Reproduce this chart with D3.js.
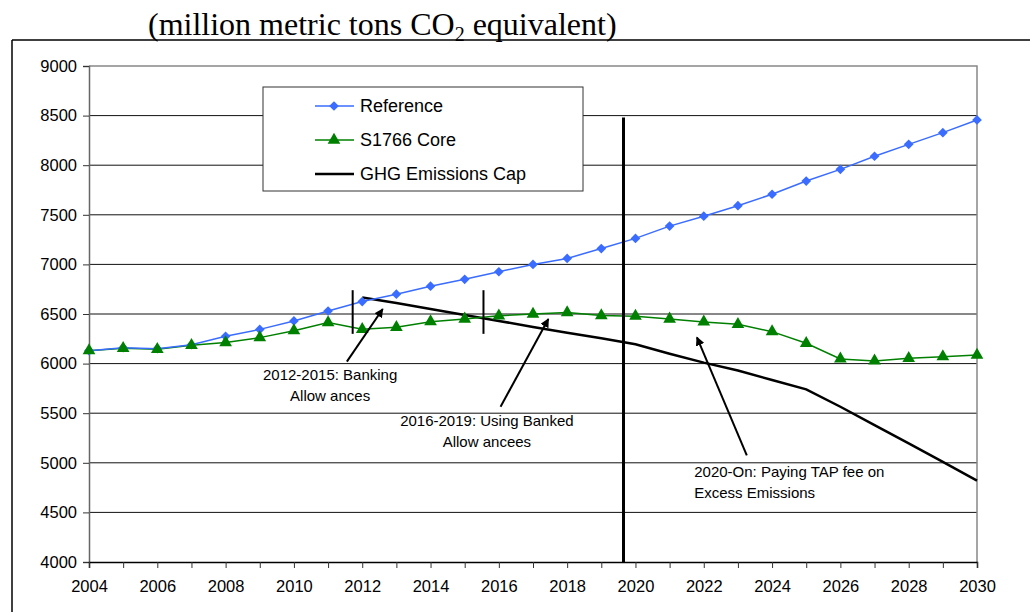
<!DOCTYPE html>
<html>
<head>
<meta charset="utf-8">
<script src="https://cdn.jsdelivr.net/npm/d3@7"></script>
<style>
  body { margin: 0; background: #fff; }
  text { font-family: Arial, "Liberation Sans", sans-serif; }
</style>
</head>
<body>
<div id="chart"></div>
<script>
// data
const years = d3.range(2004, 2031);
const reference = [6130, 6160, 6150, 6190, 6275, 6345, 6430, 6530, 6625, 6700, 6780, 6850, 6926,
                   7000, 7060, 7160, 7262, 7386, 7486, 7592, 7707, 7840, 7958, 8090, 8210, 8328, 8456];
const s1766 = [6130, 6155, 6145, 6185, 6212, 6262, 6332, 6413, 6346, 6366, 6423, 6450, 6482,
               6500, 6515, 6485, 6478, 6450, 6420, 6396, 6322, 6205, 6047, 6027, 6053, 6070, 6087];
const capYears = d3.range(2012, 2031);
const cap = [6667, 6610, 6550, 6490, 6430, 6370, 6310, 6255, 6195, 6100, 6010, 5930, 5835,
             5740, 5565, 5380, 5195, 5010, 4820];
const yTicks = d3.range(4000, 9001, 500);
const xLabels = d3.range(2004, 2031, 2);

// annotations (year, value)
const markers = [{x: 2011.72, y0: 6300, y1: 6740}, {x: 2015.55, y0: 6300, y1: 6740}];
const bigLine = {x: 2019.65, y0: 4000, y1: 8480};
const arrows = [
  {from: [2011.55, 6020], to: [2012.6, 6550]},
  {from: [2016.05, 5565], to: [2017.45, 6450]},
  {from: [2023.26, 5075], to: [2021.8, 6265]}
];
const notes = [
  {lines: ["2012-2015: Banking", "Allow ances"], x: 2011.06, y: 5830, anchor: "middle"},
  {lines: ["2016-2019: Using Banked", "Allow ancees"], x: 2015.65, y: 5370, anchor: "middle"},
  {lines: ["2020-On: Paying TAP fee on", "Excess Emissions"], x: 2021.72, y: 4860, anchor: "start"}
];

const W = 1030, H = 612;
const margin = {top: 66, right: 53, bottom: 50, left: 89};

const svg = d3.select("#chart").append("svg")
    .attr("width", W)
    .attr("height", H);

const x = d3.scaleLinear().domain([2004, 2030]).range([margin.left, W - margin.right]);
const y = d3.scaleLinear().domain([4000, 9000]).range([H - margin.bottom, margin.top]);

// outer frame
svg.append("line").attr("x1", 12).attr("x2", W).attr("y1", 40).attr("y2", 40)
    .attr("stroke", "#000").attr("stroke-width", 1.5);
svg.append("line").attr("x1", 12).attr("x2", 12).attr("y1", 40).attr("y2", H)
    .attr("stroke", "#000").attr("stroke-width", 1.5);

// title
const title = svg.append("text")
    .attr("x", 148).attr("y", 35)
    .style("font-family", "'Liberation Serif', 'Times New Roman', serif")
    .style("font-size", "32px")
    .attr("fill", "#000");
title.append("tspan").text("(million metric tons CO");
title.append("tspan").text("2").attr("dy", 6).style("font-size", "20px");
title.append("tspan").text(" equivalent)").attr("dy", -6);

// gridlines
svg.append("g")
  .selectAll("line")
  .data(yTicks.filter(d => d > 4000 && d < 9000))
  .join("line")
    .attr("x1", x(2004)).attr("x2", x(2030))
    .attr("y1", d => y(d)).attr("y2", d => y(d))
    .attr("stroke", "#111").attr("stroke-width", 1);

// plot border (top and right)
svg.append("path")
    .attr("d", `M${x(2004)},${y(9000)}H${x(2030)}V${y(4000)}`)
    .attr("fill", "none").attr("stroke", "#888").attr("stroke-width", 1.5);

// y axis
const yAxis = svg.append("g")
    .attr("transform", `translate(${x(2004)},0)`)
    .call(d3.axisLeft(y).tickValues(yTicks).tickSize(6).tickPadding(6).tickFormat(d3.format("d")));
yAxis.select(".domain").attr("stroke", "#666").attr("stroke-width", 1.5);
yAxis.selectAll(".tick line").attr("stroke", "#333");
yAxis.selectAll("text").style("font-size", "16.5px").attr("fill", "#000");

// x axis
const xAxis = svg.append("g")
    .attr("transform", `translate(0,${y(4000)})`)
    .call(d3.axisBottom(x).tickValues(years).tickSize(6).tickPadding(12)
        .tickFormat(d => xLabels.includes(d) ? String(d) : ""));
xAxis.select(".domain").attr("stroke", "#000").attr("stroke-width", 1.5);
xAxis.selectAll(".tick line").attr("stroke", "#333");
xAxis.selectAll("text").style("font-size", "16.5px").attr("fill", "#000");

const line = d3.line().x(d => x(d[0])).y(d => y(d[1]));

// cap
svg.append("path")
    .datum(capYears.map((yr, i) => [yr, cap[i]]))
    .attr("d", line)
    .attr("fill", "none").attr("stroke", "#000").attr("stroke-width", 2.5);

// green series
const greenPts = years.map((yr, i) => [yr, s1766[i]]);
svg.append("path").datum(greenPts).attr("d", line)
    .attr("fill", "none").attr("stroke", "#008000").attr("stroke-width", 1.5);

// blue series
const bluePts = years.map((yr, i) => [yr, reference[i]]);
svg.append("path").datum(bluePts).attr("d", line)
    .attr("fill", "none").attr("stroke", "#3a6cff").attr("stroke-width", 1.5);

const diamond = d3.symbol().type(d3.symbolDiamond2).size(60);
const triangle = d3.symbol().type(d3.symbolTriangle).size(70);

svg.append("g").selectAll("path").data(bluePts).join("path")
    .attr("d", diamond)
    .attr("transform", d => `translate(${x(d[0])},${y(d[1])})`)
    .attr("fill", "#3a6cff");

svg.append("g").selectAll("path").data(greenPts).join("path")
    .attr("d", triangle)
    .attr("transform", d => `translate(${x(d[0])},${y(d[1])})`)
    .attr("fill", "#008000");

// vertical markers
svg.append("g").selectAll("line").data(markers).join("line")
    .attr("x1", d => x(d.x)).attr("x2", d => x(d.x))
    .attr("y1", d => y(d.y0)).attr("y2", d => y(d.y1))
    .attr("stroke", "#000").attr("stroke-width", 2);

svg.append("line")
    .attr("x1", x(bigLine.x)).attr("x2", x(bigLine.x))
    .attr("y1", y(bigLine.y0)).attr("y2", y(bigLine.y1))
    .attr("stroke", "#000").attr("stroke-width", 3);

// arrows
svg.append("defs").append("marker")
    .attr("id", "arrow")
    .attr("viewBox", "0 0 10 10")
    .attr("refX", 9).attr("refY", 5)
    .attr("markerWidth", 9).attr("markerHeight", 9)
    .attr("markerUnits", "userSpaceOnUse")
    .attr("orient", "auto")
  .append("path")
    .attr("d", "M0,0L10,5L0,10z")
    .attr("fill", "#000");

svg.append("g").selectAll("line").data(arrows).join("line")
    .attr("x1", d => x(d.from[0])).attr("y1", d => y(d.from[1]))
    .attr("x2", d => x(d.to[0])).attr("y2", d => y(d.to[1]))
    .attr("stroke", "#000").attr("stroke-width", 2)
    .attr("marker-end", "url(#arrow)");

// notes
notes.forEach(n => {
  const t = svg.append("text")
      .attr("x", x(n.x)).attr("y", y(n.y))
      .attr("text-anchor", n.anchor)
      .style("font-size", "15px")
      .attr("fill", "#000");
  n.lines.forEach((l, i) => {
    t.append("tspan").attr("x", x(n.x)).attr("dy", i === 0 ? 0 : 21).text(l);
  });
});

// legend
const lg = svg.append("g").attr("transform", "translate(263,87)");
lg.append("rect").attr("width", 320).attr("height", 104)
    .attr("fill", "#fff").attr("stroke", "#333").attr("stroke-width", 1);
const legendItems = [
  {label: "Reference", color: "#3a6cff", sym: diamond, w: 1.5},
  {label: "S1766 Core", color: "#008000", sym: triangle, w: 1.5},
  {label: "GHG Emissions Cap", color: "#000", sym: null, w: 2.5}
];
legendItems.forEach((it, i) => {
  const gy = 19 + i * 34;
  lg.append("line").attr("x1", 52).attr("x2", 91).attr("y1", gy).attr("y2", gy)
      .attr("stroke", it.color).attr("stroke-width", it.w);
  if (it.sym) {
    lg.append("path").attr("d", it.sym).attr("transform", `translate(71,${gy})`).attr("fill", it.color);
  }
  lg.append("text").attr("x", 97).attr("y", gy + 6)
      .style("font-size", "18px").attr("fill", "#000").text(it.label);
});
</script>
</body>
</html>
